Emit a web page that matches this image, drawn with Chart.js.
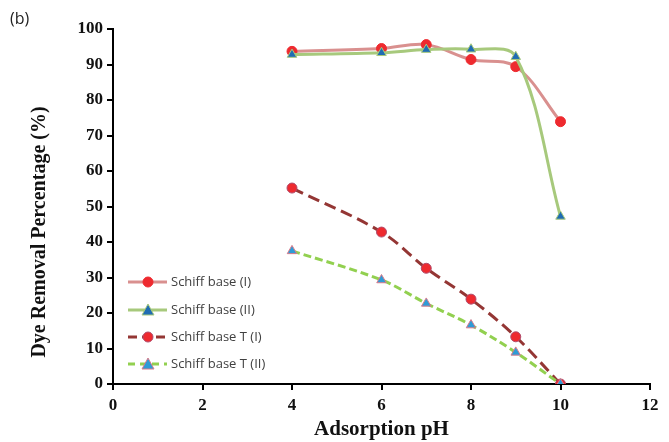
<!DOCTYPE html>
<html>
<head>
<meta charset="utf-8">
<script src="https://cdn.jsdelivr.net/npm/chart.js@4.4.1/dist/chart.umd.min.js"></script>
<style>
html,body{margin:0;padding:0;background:#fff;}
#wrap{width:669px;height:442px;position:relative;}
</style>
</head>
<body>
<div id="wrap"><canvas id="c" width="669" height="442"></canvas></div>
<script>
const phValues = [4, 6, 7, 8, 9, 10];
const schiffI = [93.7, 94.5, 95.6, 91.4, 89.4, 73.9];
const schiffII = [92.8, 93.3, 94.2, 94.3, 92.2, 47.2];
const schiffTI = [55.2, 42.8, 32.6, 23.9, 13.3, 0];
const schiffTII = [37.5, 29.3, 22.7, 16.6, 8.9, 0];
const seriesNames = ['Schiff base (I)', 'Schiff base (II)', 'Schiff base T (I)', 'Schiff base T (II)'];
const xTicks = [0, 2, 4, 6, 8, 10, 12];
const yTicks = [0, 10, 20, 30, 40, 50, 60, 70, 80, 90, 100];

const toPts = arr => phValues.map((x, i) => ({x: x, y: arr[i]}));

const styles = [
  {line:'#d9908f', fill:'#ee2a2f', border:'#ee2a2f', shape:'circle', dash:[], r:5, width:3},
  {line:'#a7c97c', fill:'#1f6cb3', border:'#a7c97c', shape:'triangle', dash:[], r:5.5, width:3},
  {line:'#943634', fill:'#ee2a2f', border:'#b04a6a', shape:'circle', dash:[12,6], r:5, width:3},
  {line:'#92d050', fill:'#2f9bd6', border:'#d97b8a', shape:'triangle', dash:[8,4], r:5.5, width:3}
];
const dataArr = [schiffI, schiffII, schiffTI, schiffTII];

const datasets = dataArr.map((arr, i) => ({
  label: seriesNames[i],
  data: toPts(arr),
  order: 4 - i,
  borderColor: styles[i].line,
  borderWidth: styles[i].width,
  borderDash: styles[i].dash,
  tension: 0.35,
  pointStyle: styles[i].shape,
  pointRadius: styles[i].r,
  pointBackgroundColor: styles[i].fill,
  pointBorderColor: styles[i].border,
  pointBorderWidth: 1,
  fill: false
}));

const extras = {
  id: 'extras',
  afterDraw(chart) {
    const ctx = chart.ctx;
    ctx.save();
    ctx.fillStyle = '#222';
    ctx.font = '16px "Open Sans", "Noto Sans", sans-serif';
    ctx.textAlign = 'left';
    ctx.textBaseline = 'middle';
    ctx.fillText('(b)', 10, 19);
    ctx.save();
    ctx.translate(40, 232);
    ctx.rotate(-Math.PI / 2);
    ctx.textAlign = 'center';
    ctx.textBaseline = 'middle';
    ctx.fillStyle = '#111';
    ctx.font = 'bold 20px "Liberation Serif", "Times New Roman", serif';
    ctx.fillText('Dye Removal Percentage (%)', 0, 0);
    ctx.restore();
    const ys = [282, 310, 337, 364];
    ys.forEach((y, i) => {
      const s = styles[i];
      ctx.save();
      ctx.strokeStyle = s.line;
      ctx.lineWidth = 3;
      ctx.setLineDash(s.dash.length ? (i === 2 ? [9,5] : [7,5]) : []);
      ctx.beginPath();
      ctx.moveTo(128, y);
      ctx.lineTo(167, y);
      ctx.stroke();
      ctx.setLineDash([]);
      ctx.fillStyle = s.fill;
      ctx.strokeStyle = s.border;
      ctx.lineWidth = 1;
      if (s.shape === 'circle') {
        ctx.beginPath();
        ctx.arc(148, y, 5, 0, Math.PI * 2);
        ctx.fill(); ctx.stroke();
      } else {
        ctx.beginPath();
        ctx.moveTo(148, y - 6);
        ctx.lineTo(154, y + 5);
        ctx.lineTo(142, y + 5);
        ctx.closePath();
        ctx.fill(); ctx.stroke();
      }
      ctx.fillStyle = '#404040';
      ctx.font = '13px "Open Sans", "Noto Sans", sans-serif';
      ctx.textAlign = 'left';
      ctx.textBaseline = 'middle';
      ctx.fillText(seriesNames[i], 171, y);
      ctx.restore();
    });
    ctx.restore();
  }
};

const tickFont = {family: '"Liberation Serif", "Times New Roman", serif', size: 17, weight: 'bold'};

new Chart(document.getElementById('c'), {
  type: 'line',
  data: {datasets: datasets},
  options: {
    responsive: false,
    animation: false,
    layout: {padding: {top: 29, right: 19, left: 0, bottom: 0}},
    plugins: {legend: {display: false}, tooltip: {enabled: false}},
    scales: {
      x: {
        type: 'linear',
        min: 0, max: 12,
        afterBuildTicks: s => { s.ticks = xTicks.map(v => ({value: v})); },
        afterFit: s => { s.height = 58; },
        grid: {drawOnChartArea: false, drawTicks: true, tickLength: 6, color: '#000', lineWidth: 2},
        border: {color: '#000', width: 2},
        ticks: {color: '#111', font: tickFont, padding: 5, maxRotation: 0},
        title: {display: true, text: 'Adsorption pH', color: '#111',
          font: {family: '"Liberation Serif", "Times New Roman", serif', size: 21, weight: 'bold'}, padding: {top: 2, bottom: 0}}
      },
      y: {
        type: 'linear',
        min: 0, max: 100,
        afterBuildTicks: s => { s.ticks = yTicks.map(v => ({value: v})); },
        afterFit: s => { s.width = 113; },
        grid: {drawOnChartArea: false, drawTicks: true, tickLength: 6, color: '#000', lineWidth: 2},
        border: {color: '#000', width: 2},
        ticks: {color: '#111', font: tickFont, padding: 4}
      }
    }
  },
  plugins: [extras]
});
</script>
</body>
</html>
